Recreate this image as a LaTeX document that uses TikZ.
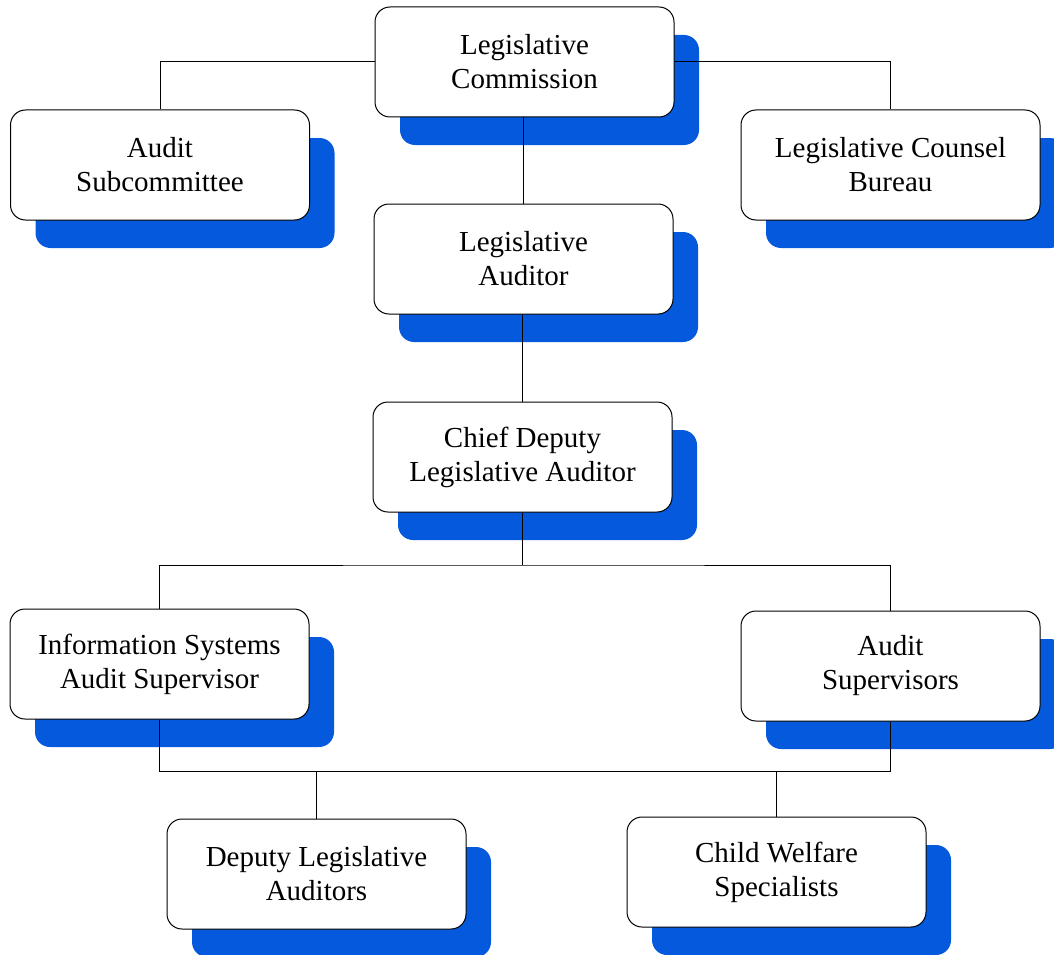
\documentclass[tikz,border=0pt]{standalone}
\usepackage{fontspec}
\setmainfont{Liberation Serif}
\usepackage{tikz}
\usetikzlibrary{shadows}

\definecolor{shadowblue}{RGB}{5,89,221}

\tikzset{
    office/.style={draw=black, line width=1pt, fill=white, rounded corners=15pt,
        minimum width=299pt, minimum height=110pt, align=center, inner sep=0pt,
        font=\fontsize{29}{34}\selectfont,
        drop shadow={shadow xshift=25pt, shadow yshift=-28pt, fill=shadowblue, opacity=1}},
    link/.style={draw=black, line width=1pt}
}

\begin{document}
\begin{tikzpicture}[x=1pt, y=-1pt]

\useasboundingbox (0,0) rectangle (1054,955);

    %top level
    \node[office] (comm) at (524.5,62) {Legislative\\Commission};
    \node[office] (sub) at (160,165) {Audit\\Subcommittee};
    \node[office] (bureau) at (890.5,165) {Legislative Counsel\\Bureau};

    %auditors
    \node[office] (aud) at (523.5,259) {Legislative\\Auditor};
    \node[office] (chief) at (522.5,457) {Chief Deputy\\Legislative Auditor};

    %supervisors
    \node[office] (info) at (159.5,664) {Information Systems\\Audit Supervisor};
    \node[office] (sup) at (890.5,666) {Audit\\Supervisors};

    %staff
    \node[office] (dep) at (316.5,874) {Deputy Legislative\\Auditors};
    \node[office] (child) at (776.5,872) {Child Welfare\\Specialists};

    %bars
    \coordinate (split) at (522.5,565);
    \coordinate (lowbar) at (0,771);

    %links
    \draw[link] (comm.west) -| (sub.north);
    \draw[link] (comm.east) -| (bureau.north);
    \draw[link] (aud.north |- comm.south) -- (aud.north);
    \draw[link] (chief.north |- aud.south) -- (chief.north);
    \draw[link] (chief.south) -- (split);
    \draw[link] (info.north) |- (split) -| (sup.north);
    \draw[link] (info.south) -- (info.south |- lowbar) -| (sup.south);
    \draw[link] (dep.north) -- (dep.north |- lowbar);
    \draw[link] (child.north) -- (child.north |- lowbar);
\end{tikzpicture}
\end{document}
